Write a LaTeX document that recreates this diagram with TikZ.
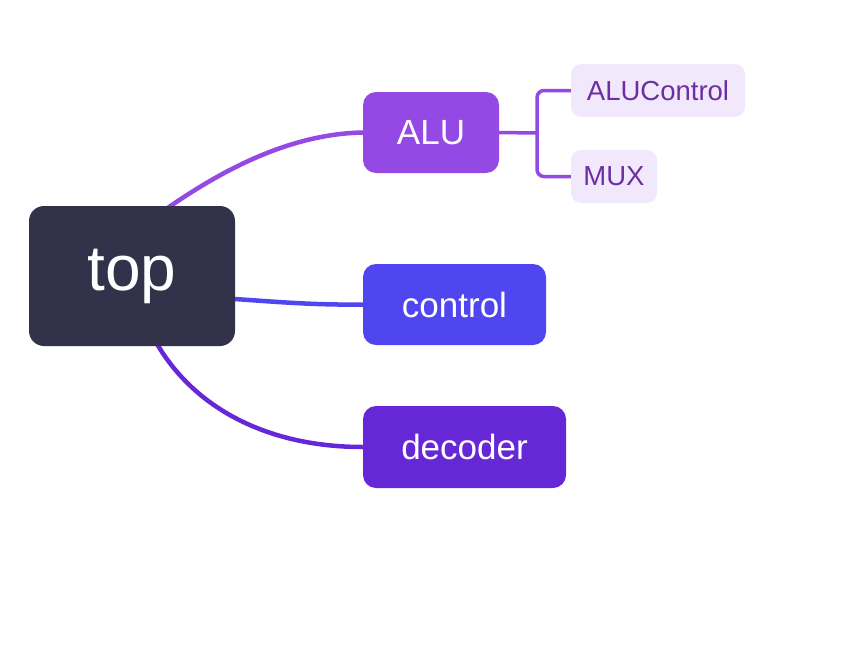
\documentclass[tikz,border=0pt]{standalone}
\usepackage{fontspec}
\setmainfont{Liberation Sans}
\usetikzlibrary{backgrounds}
\definecolor{topc}{HTML}{32324B}
\definecolor{aluc}{HTML}{9549E4}
\definecolor{ctrlc}{HTML}{4F46EF}
\definecolor{decc}{HTML}{6628D6}
\definecolor{subfill}{HTML}{F2E8FB}
\definecolor{subtext}{HTML}{6B2FA3}
\begin{document}
\begin{tikzpicture}[x=1pt,y=-1pt,
  mainbox/.style={rounded corners=13pt, inner sep=0pt, text=white, minimum height=81pt, font=\fontsize{35}{40}\selectfont},
  subbox/.style={rounded corners=10pt, inner sep=0pt, fill=subfill, text=subtext, minimum height=53pt, font=\fontsize{27.5}{30}\selectfont},
  link/.style={line width=4.5pt, line cap=round},
  sublink/.style={line width=3.5pt, rounded corners=7pt}]
\useasboundingbox (0,0) rectangle (854,648);
\node[rounded corners=15pt, inner sep=0pt, fill=topc, text=white, minimum width=206pt, minimum height=140pt, font=\fontsize{64}{70}\selectfont] (top) at (132,276) {top};
\node[mainbox, fill=aluc, minimum width=136pt] (alu) at (431,132.5) {ALU};
\node[mainbox, fill=ctrlc, minimum width=183pt] (control) at (454.5,304.5) {control};
\node[mainbox, fill=decc, minimum width=203pt, minimum height=82pt] (decoder) at (464.5,447) {decoder};
\node[subbox, minimum width=174pt] (aluctrl) at (658,90.5) {ALUControl};
\node[subbox, minimum width=86pt] (mux) at (614,176.5) {MUX};
\coordinate (fork) at (537,133);
\begin{scope}[on background layer]
\draw[link, draw=aluc] ([xshift=33pt,yshift=-4pt]top.north) .. controls (215,175) and (285,134) .. (alu.west);
\draw[link, draw=ctrlc] ([yshift=-23pt]top.east) .. controls (290,303) and (320,305) .. (control.west);
\draw[link, draw=decc] ([xshift=24pt,yshift=4pt]top.south) .. controls (195,410) and (270,447) .. (decoder.west);
\draw[line width=3.5pt, draw=aluc] (alu.east) -- (fork);
\draw[sublink, draw=aluc] (aluctrl.west) -- (fork |- aluctrl.west) -- (fork |- mux.west) -- (mux.west);
\end{scope}
\end{tikzpicture}
\end{document}
